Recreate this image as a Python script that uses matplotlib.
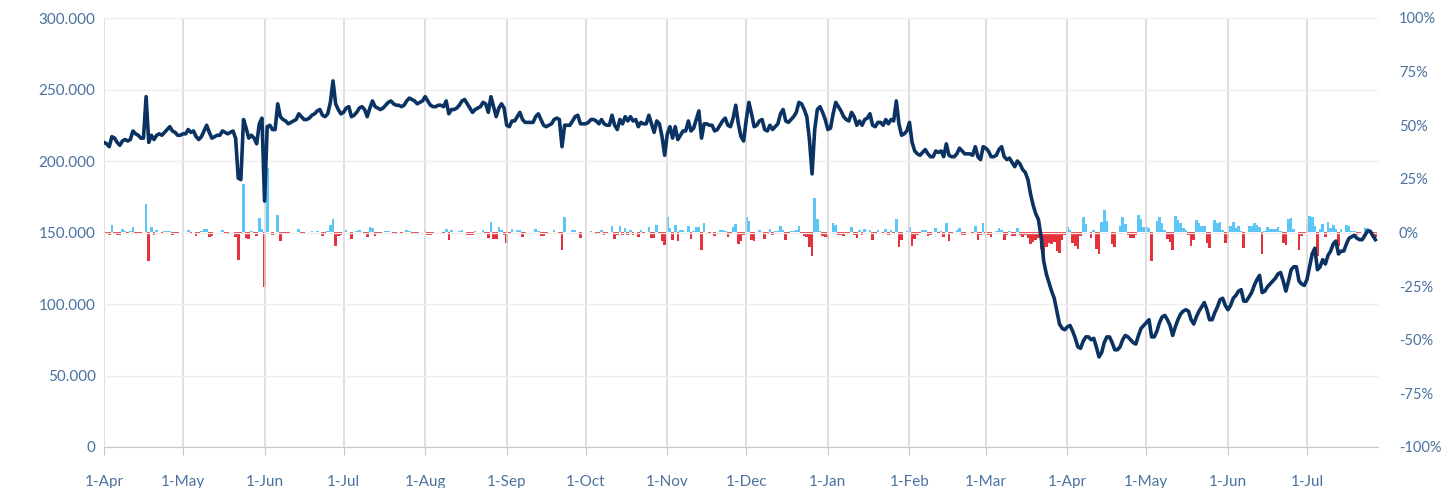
import matplotlib
matplotlib.use("Agg")
import matplotlib.pyplot as plt
import matplotlib.dates as mdates
import matplotlib.ticker as mticker
import numpy as np
import pandas as pd

# daily values (thousands), one list per month
apr19 = [213, 212, 210, 217, 216, 213, 211, 214, 215, 214, 215, 221, 219, 218, 216,
         216, 245, 213, 218, 215, 218, 219, 218, 220, 222, 224, 221, 220, 218, 218]
may19 = [219, 219, 222, 220, 221, 217, 215, 217, 221, 225, 220, 216, 217, 218, 218, 221,
         220, 219, 220, 221, 216, 188, 187, 229, 223, 216, 218, 216, 212, 226, 230]
jun19 = [172, 224, 225, 222, 222, 240, 231, 229, 228, 226, 227, 228, 229, 233, 231,
         229, 229, 230, 232, 233, 235, 236, 232, 231, 233, 241, 256, 240, 236, 233]
jul19 = [234, 237, 238, 231, 232, 234, 237, 238, 236, 231, 237, 242, 238, 237, 236, 237,
         239, 241, 242, 240, 239, 239, 238, 239, 242, 244, 243, 242, 240, 241, 242]
aug19 = [245, 242, 239, 238, 238, 239, 239, 238, 242, 233, 236, 236, 237, 239, 242, 243,
         240, 237, 234, 236, 237, 238, 241, 240, 234, 245, 238, 231, 237, 240, 237]
sep19 = [225, 224, 228, 228, 231, 234, 229, 227, 227, 227, 227, 231, 233, 229, 225,
         224, 225, 226, 229, 230, 229, 210, 225, 225, 225, 228, 231, 232, 226, 226]
oct19 = [226, 227, 229, 229, 228, 226, 229, 226, 225, 225, 232, 225, 222, 229, 226, 231,
         228, 231, 228, 229, 224, 227, 226, 226, 232, 226, 220, 228, 226, 217, 204]
nov19 = [219, 224, 216, 224, 215, 218, 221, 221, 228, 221, 223, 229, 235, 216, 226,
         226, 225, 225, 221, 222, 225, 228, 230, 225, 224, 230, 239, 226, 217, 214]
dec19 = [229, 241, 233, 224, 225, 228, 229, 222, 221, 225, 222, 224, 226, 233, 236, 228,
         227, 229, 231, 234, 241, 240, 236, 231, 215, 191, 222, 236, 238, 234, 229]
jan20 = [222, 223, 233, 241, 238, 235, 231, 229, 228, 234, 231, 225, 228, 225, 229, 230,
         233, 225, 224, 227, 227, 225, 229, 226, 229, 228, 242, 226, 218, 219, 221]
feb20 = [227, 213, 207, 205, 204, 206, 208, 205, 203, 203, 207, 206, 207, 203, 212,
         204, 203, 203, 205, 209, 207, 205, 205, 205, 204, 210, 203, 201, 210]
mar20 = [209, 207, 203, 203, 204, 208, 210, 203, 201, 202, 199, 196, 200, 198, 194, 192,
         187, 177, 169, 163, 159, 147, 130, 121, 115, 109, 104, 95, 86, 83, 82]
apr20 = [84, 85, 81, 76, 70, 69, 74, 77, 77, 75, 76, 70, 63, 66, 73,
         77, 77, 73, 68, 68, 70, 75, 78, 77, 75, 73, 72, 78, 83, 85]
may20 = [87, 89, 77, 77, 81, 87, 91, 92, 89, 85, 78, 84, 89, 93, 95, 96,
         95, 89, 86, 91, 95, 98, 101, 96, 89, 89, 94, 98, 103, 104, 99]
jun20 = [96, 99, 104, 106, 109, 110, 102, 102, 105, 108, 113, 117, 120, 108, 109,
         112, 114, 116, 118, 121, 122, 116, 109, 116, 124, 126, 126, 116, 114, 113]
jul20 = [117, 126, 135, 139, 124, 126, 131, 128, 134, 137, 142, 144, 135, 137,
         137, 142, 146, 147, 148, 146, 145, 145, 148, 151, 151, 148, 145]

left_ticks = [0, 50000, 100000, 150000, 200000, 250000, 300000]
right_ticks = [-100, -75, -50, -25, 0, 25, 50, 75, 100]

values = np.array(apr19 + may19 + jun19 + jul19 + aug19 + sep19 + oct19 + nov19 +
                  dec19 + jan20 + feb20 + mar20 + apr20 + may20 + jun20 + jul20) * 1000
dates = pd.date_range("2019-04-01", periods=len(values), freq="D")
s = pd.Series(values, index=dates)
change = (s.pct_change() * 100).fillna(0)

navy = "#0a3262"
label_col = "#4a72a0"

fig = plt.figure(figsize=(14.43, 4.88), dpi=100)
ax = fig.add_axes([104 / 1443, 41 / 488, (1378 - 104) / 1443, (447 - 18) / 488])
ax2 = ax.twinx()
ax.set_zorder(2)
ax.patch.set_visible(False)

cols = np.where(change.values >= 0, "#5cc6f6", "#e4313a")
ax2.bar(dates, change.values, width=1.0, color=cols, linewidth=0)
ax.plot(dates, values, color=navy, lw=2.6, solid_joinstyle="round")

ax.set_ylim(0, 300000)
ax2.set_ylim(-100, 100)
ax.set_xlim(pd.Timestamp("2019-04-01"), dates[-1] + pd.Timedelta(days=1))

ax.set_yticks(left_ticks)
ax.yaxis.set_major_formatter(mticker.FuncFormatter(lambda v, p: f"{int(v):,}".replace(",", ".")))
ax2.set_yticks(right_ticks)
ax2.yaxis.set_major_formatter(mticker.FuncFormatter(lambda v, p: f"{int(v)}%"))

ax.xaxis.set_major_locator(mdates.MonthLocator())
ax.xaxis.set_major_formatter(mticker.FuncFormatter(
    lambda v, p: f"{mdates.num2date(v).day}-{mdates.num2date(v):%b}"))

ax.grid(axis="y", color="#eeeeee", lw=1)
ax.grid(axis="x", color="#d9d9d9", lw=1.2)

for a in (ax, ax2):
    for sp in a.spines.values():
        sp.set_visible(False)
ax.spines["bottom"].set_visible(True)
ax.spines["bottom"].set_color("#c8c8c8")

ax.tick_params(axis="y", length=0, pad=6, labelsize=11, labelcolor=label_col)
ax2.tick_params(axis="y", length=0, pad=15, labelsize=10.5, labelcolor=label_col)
ax.tick_params(axis="x", length=6, color="#c8c8c8", pad=14, labelsize=11, labelcolor=label_col)
for t in ax.get_xticklabels() + ax.get_yticklabels() + ax2.get_yticklabels():
    t.set_fontfamily("Lato")

fig.savefig("out.png", dpi=100)
